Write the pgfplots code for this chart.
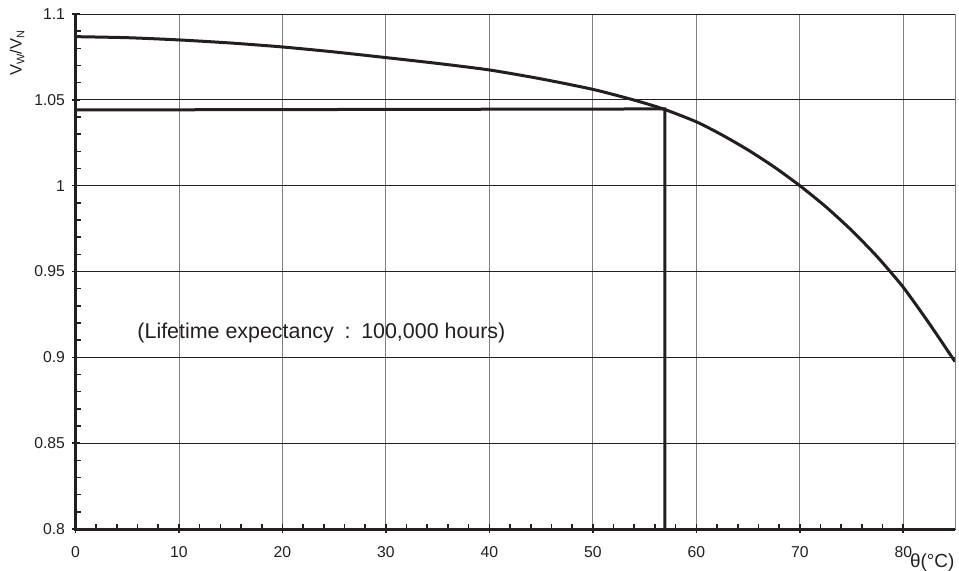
\documentclass[border=0pt]{standalone}
\usepackage{fontspec}
\setmainfont{Liberation Sans}
\usepackage{pgfplots}
\pgfplotsset{compat=1.18}
\definecolor{ink}{HTML}{231F20}
\begin{document}
\begin{tikzpicture}
\begin{axis}[
  scale only axis, width=879.5bp, height=515bp,
  xmin=0, xmax=85, ymin=0.8, ymax=1.1,
  xtick={0,10,20,30,40,50,60,70,80},
  ytick={0.8,0.85,0.9,0.95,1,1.05,1.1},
  yticklabels={0.8,0.85,0.9,0.95,1,1.05,1.1},
  minor x tick num=4, minor y tick num=4,
  grid=major,
  major x grid style={gray, line width=0.9bp},
  major y grid style={ink, line width=0.7bp},
  axis line style={ink, line width=0.8bp},
  tick pos=left,
  tick align=inside,
  major tick length=8bp, minor tick length=5.5bp,
  tick style={ink, line width=1.6bp},
  major x tick style={yshift=-3.5bp},
  major y tick style={xshift=-3.5bp},
  /pgf/number format/assume math mode=true,
  tick label style={font=\fontsize{15.8}{18}\selectfont, text=ink},
  yticklabel style={xshift=-7bp},
  xticklabel style={yshift=-13.5bp},
  xlabel={θ(°C)},
  xlabel style={at={(axis description cs:1.0034,-0.066)}, anchor=east, font=\fontsize{19}{22}\selectfont, text=ink},
  ylabel={V\raisebox{-0.3ex}{\fontsize{11}{12}\selectfont W}/V\raisebox{-0.3ex}{\fontsize{11}{12}\selectfont N}},
  ylabel style={at={(axis description cs:-0.0665,0.924)}, anchor=center, font=\fontsize{16.5}{18}\selectfont, text=ink},
  clip=false,
]
\addplot[ink, line width=3bp, smooth, tension=0.4] table {
x y
0 1.0868
5 1.0862
10 1.0849
15 1.0831
20 1.0808
25 1.0779
30 1.0746
35 1.0712
40 1.0674
45 1.0622
50 1.0561
53.9 1.0500
56.8 1.0447
60 1.0372
62.5 1.0295
65 1.0208
67.5 1.0110
70 1.0000
72.5 0.9878
75 0.9740
77.5 0.9585
80 0.9408
82.5 0.9198
85 0.8975
};
\addplot[ink, line width=3bp] table {
x y
0 1.0441
56.95 1.0447
56.95 0.8
};
\node[anchor=base west, font=\fontsize{21.5}{24}\selectfont, text=ink] at (axis cs:5.65,0.9107) {(Lifetime expectancy\hspace{0.5em}:\hspace{0.5em}100,000 hours)};
\draw[gray, line width=1bp] (rel axis cs:1,0) -- (rel axis cs:1,1);
\draw[ink, line width=3bp] (rel axis cs:0,1) -- (rel axis cs:0,0) -- (rel axis cs:1,0);
\coordinate (LL) at (rel axis cs:0,0);
\end{axis}
\pgfresetboundingbox
\path[shift={(LL)}] (-75.5bp,-42bp) rectangle (883.5bp,529bp);
\end{tikzpicture}
\end{document}
